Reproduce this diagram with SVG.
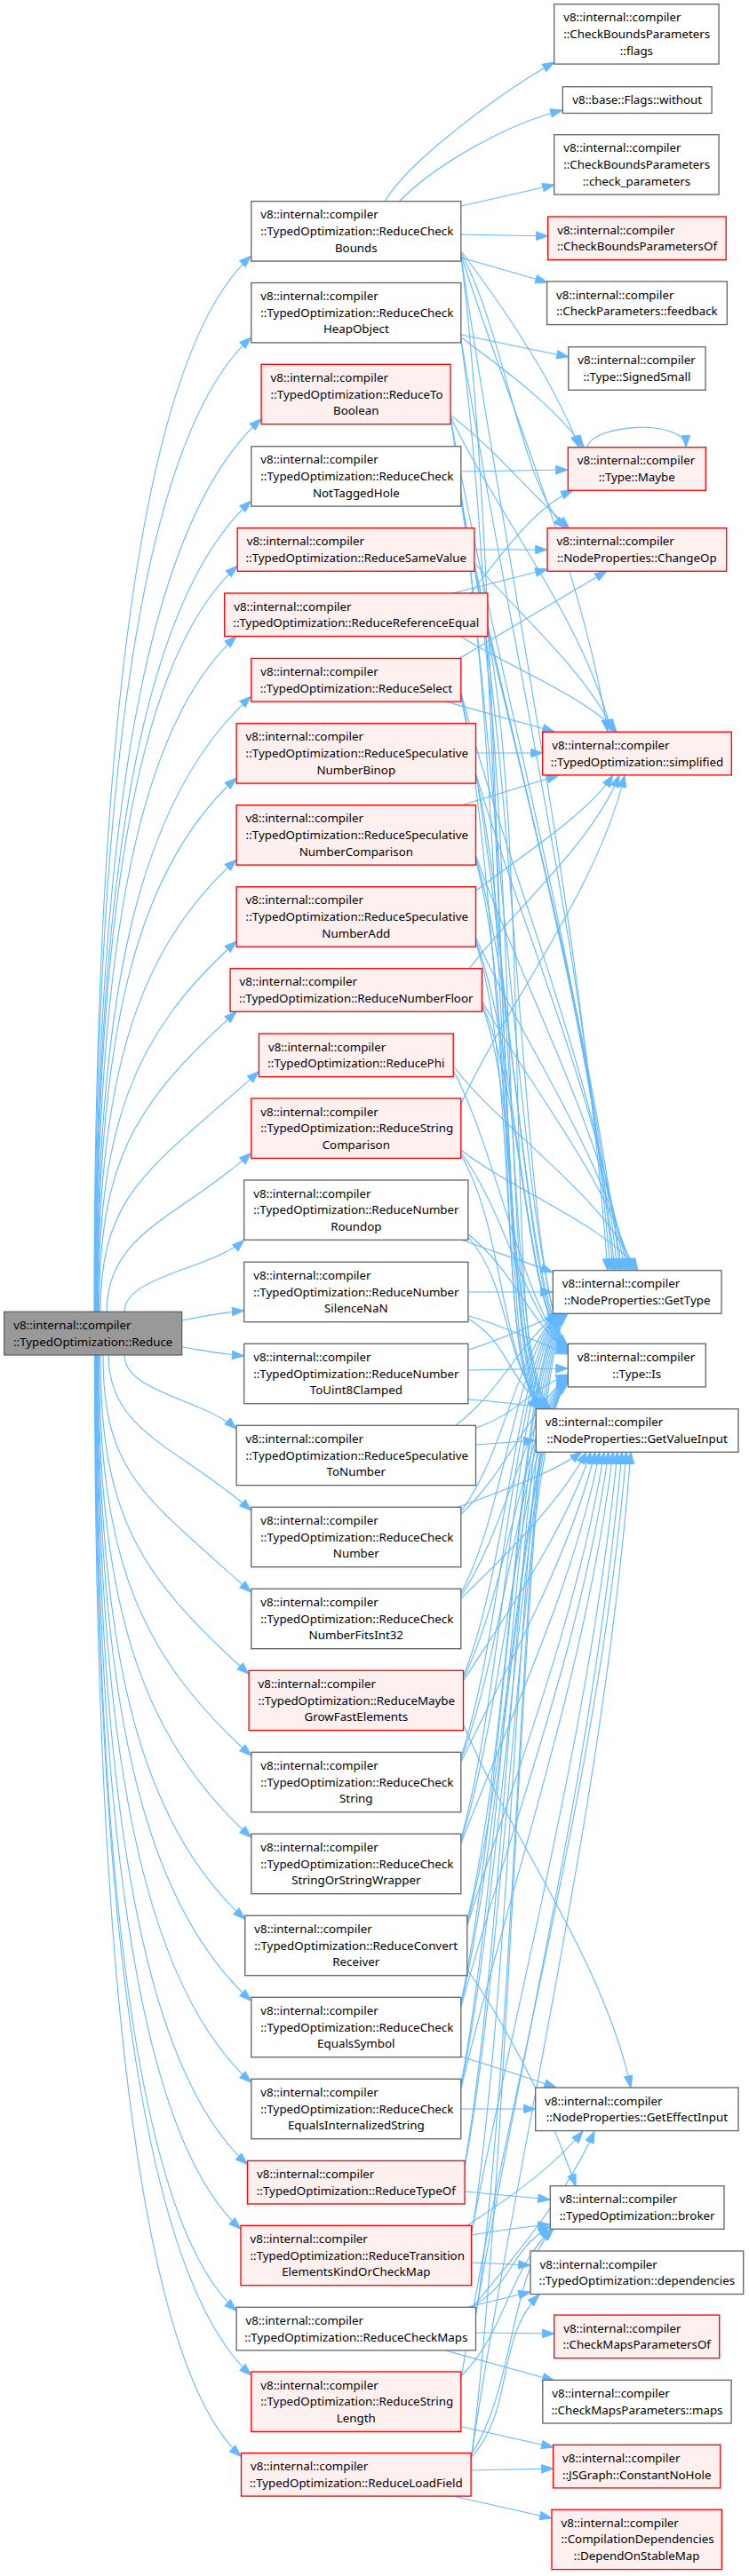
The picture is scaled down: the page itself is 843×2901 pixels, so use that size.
<svg xmlns="http://www.w3.org/2000/svg" width="843" height="2901" viewBox="0 0 843 2901">
<style>
text{font-family:"Noto Sans","DejaVu Sans",sans-serif;font-size:13.33px;fill:#000}
.c{text-anchor:middle}
.w{fill:#fff;stroke:#666;stroke-width:1.33}
.r{fill:#fff0f0;stroke:#f00;stroke-width:1.33}
.g{fill:#999;stroke:#666;stroke-width:1.33}
#edges path{fill:none;stroke:#63b8ff;stroke-width:1.1;marker-end:url(#a)}
</style>
<defs>
<marker id="a" viewBox="-14 -6 15 12" refX="0" refY="0" markerWidth="15" markerHeight="12" markerUnits="userSpaceOnUse" orient="auto"><path d="M0,0 L-13.3,-4.7 L-13.3,4.7 Z" fill="#63b8ff" stroke="#63b8ff" stroke-width="1"/></marker>
</defs>
<rect width="843" height="2901" fill="#fff"/>
<g id="edges">
<path d="M106,1477.3 C106,882.7 150.2,407.4 282.8,288.1"/>
<path d="M106.5,1477.3 C106.5,928.6 150.6,498.9 282.8,379.9"/>
<path d="M107,1477.3 C107,974.5 153.8,598 294.1,471.7"/>
<path d="M107.5,1477.3 C107.5,1020.7 151.3,682.5 282.8,564.1"/>
<path d="M108,1477.3 C108,1057.3 147.8,744.8 267.2,637.3"/>
<path d="M108.5,1477.3 C108.5,1097 147.9,822.9 266,716.6"/>
<path d="M109,1477.3 C109,1130.7 152.4,901.5 282.8,784.1"/>
<path d="M109.5,1477.3 C109.5,1176.7 148.6,981.9 266.1,876.1"/>
<path d="M110,1477.3 C110,1222.7 149.1,1073.4 266.1,968.1"/>
<path d="M110.5,1477.3 C110.5,1268.7 149.4,1165.1 266.1,1060.1"/>
<path d="M111.5,1477.3 C111.5,1308.3 150.1,1243.6 266,1139.3"/>
<path d="M113,1477.3 C113,1342 169.6,1316.2 291.4,1206.6"/>
<path d="M120,1477.3 C120,1387.9 202.3,1370.9 282.8,1298.4"/>
<path d="M140,1477.3 C140,1436.9 238.3,1429.2 274.7,1396.4"/>
<path d="M204.7,1487 C230,1482 250,1478 274.7,1476"/>
<path d="M204.7,1517 C230,1521 250,1525 274.7,1527"/>
<path d="M140,1526 C140,1567.7 228.6,1575.5 266.1,1609.3"/>
<path d="M122,1526 C122,1613.7 203.9,1630.3 282.8,1701.3"/>
<path d="M116,1526 C116,1659.7 162.5,1685 282.8,1793.3"/>
<path d="M113,1526 C113,1705.7 154.8,1772.5 280.1,1885.3"/>
<path d="M111.5,1526 C111.5,1751.7 154.3,1861.6 282.8,1977.3"/>
<path d="M110.5,1526 C110.5,1797.7 153.6,1953 282.8,2069.3"/>
<path d="M110,1526 C110,1843.7 151.4,2049.3 275.8,2161.3"/>
<path d="M109.5,1526 C109.5,1889.7 152.8,2136.3 282.8,2253.3"/>
<path d="M109,1526 C109,1935.7 152.4,2227.9 282.8,2345.3"/>
<path d="M108.5,1526 C108.5,1981.7 151,2322.6 278.5,2437.4"/>
<path d="M108,1526 C108,2018.2 148.7,2400.2 271,2510.3"/>
<path d="M107.5,1526 C107.5,2064.2 147.1,2495.2 266.1,2602.3"/>
<path d="M107,1526 C107,2100.5 150.9,2556.3 282.8,2675"/>
<path d="M106.5,1526 C106.5,2146.3 147.7,2655.1 271.5,2766.5"/>
<path d="M433,227 C460,180 570,100 624,70"/>
<path d="M449,227 C490,185 570,140 633,124"/>
<path d="M519,232 C550,225 590,216 624,208"/>
<path d="M519,264 L617,266"/>
<path d="M519,290 L616,318"/>
<path d="M519,283 C569,349 622,427 652,504"/>
<path d="M519,285 C569,378 586,545 636,595"/>
<path d="M519,287 C569,448 654,636 684,824"/>
<path d="M519,289 C569,632 654,1031 684,1431"/>
<path d="M519,291 C569,680 558,1537 608,1587"/>
<path d="M519,377 L640,402"/>
<path d="M519,380 C569,417 627,460 657,504"/>
<path d="M519,382 C569,697 657,1064 687,1431"/>
<path d="M519,384 C569,745 560,1537 610,1587"/>
<path d="M507.5,468 C557.5,506 591,550 641,595"/>
<path d="M507.5,470 C557.5,576 658,700 688,824"/>
<path d="M507.5,472 C557.5,760 660,1095 690,1431"/>
<path d="M507.5,474 C557.5,787 589,1466 639,1516"/>
<path d="M519,531 L639,529"/>
<path d="M519,562 C569,823 662,1127 692,1431"/>
<path d="M519,565 C569,872 562,1537 612,1587"/>
<path d="M534,619 L616,619"/>
<path d="M534,634 C584,691 661,758 691,824"/>
<path d="M534,636 C584,874 665,1153 695,1431"/>
<path d="M534,638 C584,902 589,1467 639,1517"/>
<path d="M534,640 C584,924 564,1537 614,1587"/>
<path d="M530,668 C560,630 600,572 645,552"/>
<path d="M510,668 L616,641"/>
<path d="M519,717 C569,749 664,787 694,824"/>
<path d="M549,710 C599,926 668,1179 698,1431"/>
<path d="M549,713 C599,975 566,1537 616,1587"/>
<path d="M516,742 L683,643"/>
<path d="M501,790 L624,824"/>
<path d="M519,780 C569,975 670,1203 700,1431"/>
<path d="M519,783 C569,1004 589,1468 639,1518"/>
<path d="M519,786 C569,1026 568,1537 618,1587"/>
<path d="M536,848 L611,848"/>
<path d="M536,873 C586,1040 673,1236 703,1431"/>
<path d="M536,876 C586,1089 570,1537 620,1587"/>
<path d="M519,907 L629,873"/>
<path d="M536,965 C586,1105 676,1268 706,1431"/>
<path d="M536,968 C586,1133 589,1469 639,1519"/>
<path d="M536,971 C586,1156 557,1537 607,1587"/>
<path d="M536,1003 C586,964 660,918 690,873"/>
<path d="M536,1057 C586,1169 679,1300 709,1431"/>
<path d="M536,1060 C586,1198 589,1470 639,1520"/>
<path d="M536,1063 C586,1220 559,1537 609,1587"/>
<path d="M528,1091 C578,1025 667,949 697,873"/>
<path d="M543,1128 C593,1219 682,1325 712,1431"/>
<path d="M543,1131 C593,1248 589,1471 639,1521"/>
<path d="M543,1134 C593,1270 561,1537 611,1587"/>
<path d="M510,1200 C560,1269 685,1350 715,1431"/>
<path d="M510,1205 C560,1300 589,1472 639,1522"/>
<path d="M519,1243 C569,1132 673,1002 703,873"/>
<path d="M519,1295 C569,1336 688,1383 718,1431"/>
<path d="M519,1298 C569,1366 589,1473 639,1523"/>
<path d="M519,1301 C569,1387 563,1537 613,1587"/>
<path d="M519,1396 C550,1408 590,1420 622,1433"/>
<path d="M527,1390 C577,1430 589,1477 639,1524"/>
<path d="M527,1393 C577,1451 565,1537 615,1587"/>
<path d="M527,1455 L622,1455"/>
<path d="M527,1482 C560,1490 600,1510 639,1525"/>
<path d="M527,1485 C577,1516 567,1551 617,1587"/>
<path d="M527,1543 L639,1541"/>
<path d="M527,1520 C560,1510 600,1492 630,1479"/>
<path d="M527,1576 C560,1578 590,1582 619,1587"/>
<path d="M536,1627 L603,1622"/>
<path d="M513,1605 C563,1567 577,1523 627,1479"/>
<path d="M536,1608 C586,1590 589,1569 639,1548"/>
<path d="M519,1702 C569,1635 578,1529 628,1479"/>
<path d="M519,1705 C569,1658 589,1599 639,1549"/>
<path d="M516,1697 C566,1679 625,1657 655,1635"/>
<path d="M519,1794 C569,1700 579,1529 629,1479"/>
<path d="M519,1797 C569,1723 589,1600 639,1550"/>
<path d="M519,1800 C569,1751 630,1693 660,1635"/>
<path d="M522,1886 C572,1764 580,1529 630,1479"/>
<path d="M522,1889 C572,1788 589,1601 639,1551"/>
<path d="M522,1892 C572,1815 635,1725 665,1635"/>
<path d="M522,1943 C572,2065 680,2208 710,2351"/>
<path d="M519,1978 C569,1828 581,1529 631,1479"/>
<path d="M519,1981 C569,1852 589,1602 639,1552"/>
<path d="M519,1984 C569,1879 640,1757 670,1635"/>
<path d="M519,2070 C569,1893 582,1529 632,1479"/>
<path d="M519,2073 C569,1917 589,1603 639,1553"/>
<path d="M519,2076 C569,1944 645,1790 675,1635"/>
<path d="M526,2162 C576,1957 583,1529 633,1479"/>
<path d="M526,2165 C576,1982 589,1604 639,1554"/>
<path d="M526,2168 C576,2008 650,1822 680,1635"/>
<path d="M526,2218 C576,2291 618,2376 648,2462"/>
<path d="M519,2254 C569,2022 584,1529 634,1479"/>
<path d="M519,2257 C569,2046 589,1605 639,1555"/>
<path d="M519,2260 C569,2073 655,1854 685,1635"/>
<path d="M519,2316 C550,2326 595,2340 626,2351"/>
<path d="M519,2375 L603,2375"/>
<path d="M519,2346 C569,2086 585,1529 635,1479"/>
<path d="M519,2349 C569,2111 589,1606 639,1556"/>
<path d="M519,2352 C569,2137 660,1886 690,1635"/>
<path d="M523,2468 L619,2477"/>
<path d="M523,2438 C573,2150 586,1529 636,1479"/>
<path d="M523,2441 C573,2176 589,1607 639,1557"/>
<path d="M526,2506 C576,2474 626,2437 656,2400"/>
<path d="M531,2517 C560,2512 590,2508 619,2505"/>
<path d="M531,2548 L597,2551"/>
<path d="M531,2513 C581,2250 665,1943 695,1635"/>
<path d="M531,2515 C581,2204 587,1529 637,1479"/>
<path d="M536,2627 L624,2628"/>
<path d="M501,2647 L624,2681"/>
<path d="M527,2598 L597,2581"/>
<path d="M530,2598 C580,2571 569,2539 619,2507"/>
<path d="M532,2598 C582,2539 639,2469 669,2400"/>
<path d="M536,2603 C586,2313 670,1974 700,1635"/>
<path d="M536,2605 C586,2267 588,1529 638,1479"/>
<path d="M520,2733 L623,2756"/>
<path d="M519,2676 C569,2626 571,2560 621,2510"/>
<path d="M519,2679 C569,2366 675,2001 705,1635"/>
<path d="M530,2782 L623,2780"/>
<path d="M510,2811 L621,2836"/>
<path d="M530,2765 C580,2689 573,2560 623,2510"/>
<path d="M530,2768 C580,2713 557,2634 607,2584"/>
<path d="M530,2770 C580,2430 680,2032 710,1635"/>
<path d="M530,2772 C580,2384 589,1529 639,1479"/>
<path d="M661,503 C670,476 772,472 772,503.7"/>
</g>
<g id="reduce"><rect class="g" x="4.7" y="1477.3" width="200" height="48.7"/><text x="15.2" y="1496.8">v8::internal::compiler</text><text class="c" x="104.7" y="1515.5">::TypedOptimization::Reduce</text></g>
<g id="checkbounds"><rect class="w" x="282.8" y="226.7" width="236" height="67.4"/><text x="293.3" y="246.2">v8::internal::compiler</text><text x="293.3" y="264.9">::TypedOptimization::ReduceCheck</text><text class="c" x="400.8" y="283.6">Bounds</text></g>
<g id="checkheapobject"><rect class="w" x="282.8" y="318.5" width="236" height="67.4"/><text x="293.3" y="338">v8::internal::compiler</text><text x="293.3" y="356.7">::TypedOptimization::ReduceCheck</text><text class="c" x="400.8" y="375.4">HeapObject</text></g>
<g id="toboolean"><rect class="r" x="294.1" y="410.3" width="213" height="67.4"/><text x="304.6" y="429.8">v8::internal::compiler</text><text x="304.6" y="448.5">::TypedOptimization::ReduceTo</text><text class="c" x="400.8" y="467.2">Boolean</text></g>
<g id="checknottaggedhole"><rect class="w" x="282.8" y="502.7" width="236" height="67.4"/><text x="293.3" y="522.2">v8::internal::compiler</text><text x="293.3" y="540.9">::TypedOptimization::ReduceCheck</text><text class="c" x="400.8" y="559.6">NotTaggedHole</text></g>
<g id="samevalue"><rect class="r" x="267.2" y="594.7" width="266.7" height="48.6"/><text x="277.7" y="614.2">v8::internal::compiler</text><text class="c" x="400.8" y="632.9">::TypedOptimization::ReduceSameValue</text></g>
<g id="referenceequal"><rect class="r" x="252.7" y="668" width="296.2" height="48.6"/><text x="263.2" y="687.5">v8::internal::compiler</text><text class="c" x="400.8" y="706.2">::TypedOptimization::ReduceReferenceEqual</text></g>
<g id="select"><rect class="r" x="282.8" y="741.5" width="236" height="48.6"/><text x="293.3" y="761">v8::internal::compiler</text><text class="c" x="400.8" y="779.7">::TypedOptimization::ReduceSelect</text></g>
<g id="binop"><rect class="r" x="266.1" y="814.7" width="269.4" height="67.4"/><text x="276.6" y="834.2">v8::internal::compiler</text><text x="276.6" y="852.9">::TypedOptimization::ReduceSpeculative</text><text class="c" x="400.8" y="871.6">NumberBinop</text></g>
<g id="comparison"><rect class="r" x="266.1" y="906.7" width="269.4" height="67.4"/><text x="276.6" y="926.2">v8::internal::compiler</text><text x="276.6" y="944.9">::TypedOptimization::ReduceSpeculative</text><text class="c" x="400.8" y="963.6">NumberComparison</text></g>
<g id="numberadd"><rect class="r" x="266.1" y="998.7" width="269.4" height="67.4"/><text x="276.6" y="1018.2">v8::internal::compiler</text><text x="276.6" y="1036.9">::TypedOptimization::ReduceSpeculative</text><text class="c" x="400.8" y="1055.6">NumberAdd</text></g>
<g id="numberfloor"><rect class="r" x="259.1" y="1090.7" width="283.4" height="48.6"/><text x="269.6" y="1110.2">v8::internal::compiler</text><text class="c" x="400.8" y="1128.9">::TypedOptimization::ReduceNumberFloor</text></g>
<g id="phi"><rect class="r" x="291.4" y="1164" width="218.8" height="48.6"/><text x="301.9" y="1183.5">v8::internal::compiler</text><text class="c" x="400.8" y="1202.2">::TypedOptimization::ReducePhi</text></g>
<g id="stringcomparison"><rect class="r" x="282.8" y="1237" width="236" height="67.4"/><text x="293.3" y="1256.5">v8::internal::compiler</text><text x="293.3" y="1275.2">::TypedOptimization::ReduceString</text><text class="c" x="400.8" y="1293.9">Comparison</text></g>
<g id="roundop"><rect class="w" x="274.7" y="1329" width="252.2" height="67.4"/><text x="285.2" y="1348.5">v8::internal::compiler</text><text x="285.2" y="1367.2">::TypedOptimization::ReduceNumber</text><text class="c" x="400.8" y="1385.9">Roundop</text></g>
<g id="silencenan"><rect class="w" x="274.7" y="1421.3" width="252.2" height="67.4"/><text x="285.2" y="1440.8">v8::internal::compiler</text><text x="285.2" y="1459.5">::TypedOptimization::ReduceNumber</text><text class="c" x="400.8" y="1478.2">SilenceNaN</text></g>
<g id="touint8clamped"><rect class="w" x="274.7" y="1513.3" width="252.2" height="67.4"/><text x="285.2" y="1532.8">v8::internal::compiler</text><text x="285.2" y="1551.5">::TypedOptimization::ReduceNumber</text><text class="c" x="400.8" y="1570.2">ToUint8Clamped</text></g>
<g id="speculativetonumber"><rect class="w" x="266.1" y="1605.3" width="269.4" height="67.4"/><text x="276.6" y="1624.8">v8::internal::compiler</text><text x="276.6" y="1643.5">::TypedOptimization::ReduceSpeculative</text><text class="c" x="400.8" y="1662.2">ToNumber</text></g>
<g id="checknumber"><rect class="w" x="282.8" y="1697.3" width="236" height="67.4"/><text x="293.3" y="1716.8">v8::internal::compiler</text><text x="293.3" y="1735.5">::TypedOptimization::ReduceCheck</text><text class="c" x="400.8" y="1754.2">Number</text></g>
<g id="checknumberfitsint32"><rect class="w" x="282.8" y="1789.3" width="236" height="67.4"/><text x="293.3" y="1808.8">v8::internal::compiler</text><text x="293.3" y="1827.5">::TypedOptimization::ReduceCheck</text><text class="c" x="400.8" y="1846.2">NumberFitsInt32</text></g>
<g id="maybegrowfastelements"><rect class="r" x="280.1" y="1881.3" width="241.4" height="67.4"/><text x="290.6" y="1900.8">v8::internal::compiler</text><text x="290.6" y="1919.5">::TypedOptimization::ReduceMaybe</text><text class="c" x="400.8" y="1938.2">GrowFastElements</text></g>
<g id="checkstring"><rect class="w" x="282.8" y="1973.3" width="236" height="67.4"/><text x="293.3" y="1992.8">v8::internal::compiler</text><text x="293.3" y="2011.5">::TypedOptimization::ReduceCheck</text><text class="c" x="400.8" y="2030.2">String</text></g>
<g id="checkstringorstringwrapper"><rect class="w" x="282.8" y="2065.3" width="236" height="67.4"/><text x="293.3" y="2084.8">v8::internal::compiler</text><text x="293.3" y="2103.5">::TypedOptimization::ReduceCheck</text><text class="c" x="400.8" y="2122.2">StringOrStringWrapper</text></g>
<g id="convertreceiver"><rect class="w" x="275.8" y="2157.3" width="250" height="67.4"/><text x="286.3" y="2176.8">v8::internal::compiler</text><text x="286.3" y="2195.5">::TypedOptimization::ReduceConvert</text><text class="c" x="400.8" y="2214.2">Receiver</text></g>
<g id="checkequalssymbol"><rect class="w" x="282.8" y="2249.3" width="236" height="67.4"/><text x="293.3" y="2268.8">v8::internal::compiler</text><text x="293.3" y="2287.5">::TypedOptimization::ReduceCheck</text><text class="c" x="400.8" y="2306.2">EqualsSymbol</text></g>
<g id="checkequalsinternalizedstring"><rect class="w" x="282.8" y="2341.3" width="236" height="67.4"/><text x="293.3" y="2360.8">v8::internal::compiler</text><text x="293.3" y="2379.5">::TypedOptimization::ReduceCheck</text><text class="c" x="400.8" y="2398.2">EqualsInternalizedString</text></g>
<g id="typeof"><rect class="r" x="278.5" y="2433.4" width="244.6" height="48.6"/><text x="289" y="2452.9">v8::internal::compiler</text><text class="c" x="400.8" y="2471.6">::TypedOptimization::ReduceTypeOf</text></g>
<g id="transition"><rect class="r" x="271" y="2506.3" width="259.6" height="67.4"/><text x="281.5" y="2525.8">v8::internal::compiler</text><text x="281.5" y="2544.5">::TypedOptimization::ReduceTransition</text><text class="c" x="400.8" y="2563.2">ElementsKindOrCheckMap</text></g>
<g id="checkmaps"><rect class="w" x="266.1" y="2598.3" width="269.4" height="48.6"/><text x="276.6" y="2617.8">v8::internal::compiler</text><text class="c" x="400.8" y="2636.5">::TypedOptimization::ReduceCheckMaps</text></g>
<g id="stringlength"><rect class="r" x="282.8" y="2671" width="236" height="67.4"/><text x="293.3" y="2690.5">v8::internal::compiler</text><text x="293.3" y="2709.2">::TypedOptimization::ReduceString</text><text class="c" x="400.8" y="2727.9">Length</text></g>
<g id="loadfield"><rect class="r" x="271.5" y="2762.5" width="258.6" height="48.6"/><text x="282" y="2782">v8::internal::compiler</text><text class="c" x="400.8" y="2800.7">::TypedOptimization::ReduceLoadField</text></g>
<g id="flags"><rect class="w" x="623.7" y="4.7" width="185.4" height="67.4"/><text x="634.2" y="24.2">v8::internal::compiler</text><text x="634.2" y="42.9">::CheckBoundsParameters</text><text class="c" x="716.4" y="61.6">::flags</text></g>
<g id="without"><rect class="w" x="633.3" y="97.7" width="167.8" height="29.8"/><text class="c" x="717.2" y="117.2">v8::base::Flags::without</text></g>
<g id="check_parameters"><rect class="w" x="623.7" y="151.7" width="185.4" height="67.4"/><text x="634.2" y="171.2">v8::internal::compiler</text><text x="634.2" y="189.9">::CheckBoundsParameters</text><text class="c" x="716.4" y="208.6">::check_parameters</text></g>
<g id="checkboundsparametersof"><rect class="r" x="616.7" y="244" width="200.5" height="48.6"/><text x="627.2" y="263.5">v8::internal::compiler</text><text class="c" x="716.95" y="282.2">::CheckBoundsParametersOf</text></g>
<g id="feedback"><rect class="w" x="615.6" y="317" width="202.7" height="48.6"/><text x="626.1" y="336.5">v8::internal::compiler</text><text class="c" x="716.95" y="355.2">::CheckParameters::feedback</text></g>
<g id="signedsmall"><rect class="w" x="639.8" y="390.7" width="154.3" height="48.6"/><text x="650.3" y="410.2">v8::internal::compiler</text><text class="c" x="716.95" y="428.9">::Type::SignedSmall</text></g>
<g id="maybe"><rect class="r" x="639.3" y="503.7" width="155" height="48.6"/><text x="649.8" y="523.2">v8::internal::compiler</text><text class="c" x="716.8" y="541.9">::Type::Maybe</text></g>
<g id="changeop"><rect class="r" x="616" y="594.7" width="201.7" height="48.6"/><text x="626.5" y="614.2">v8::internal::compiler</text><text class="c" x="716.85" y="632.9">::NodeProperties::ChangeOp</text></g>
<g id="simplified"><rect class="r" x="610.7" y="824.3" width="212.6" height="48.6"/><text x="621.2" y="843.8">v8::internal::compiler</text><text class="c" x="717" y="862.5">::TypedOptimization::simplified</text></g>
<g id="gettype"><rect class="w" x="622.3" y="1430.7" width="189.7" height="48.6"/><text x="632.8" y="1450.2">v8::internal::compiler</text><text class="c" x="717.15" y="1468.9">::NodeProperties::GetType</text></g>
<g id="is"><rect class="w" x="639.3" y="1513.3" width="155" height="48.6"/><text x="649.8" y="1532.8">v8::internal::compiler</text><text class="c" x="716.8" y="1551.5">::Type::Is</text></g>
<g id="getvalueinput"><rect class="w" x="603.3" y="1586.7" width="227.7" height="48.6"/><text x="613.8" y="1606.2">v8::internal::compiler</text><text class="c" x="717.15" y="1624.9">::NodeProperties::GetValueInput</text></g>
<g id="geteffectinput"><rect class="w" x="602.7" y="2351" width="228.3" height="48.6"/><text x="613.2" y="2370.5">v8::internal::compiler</text><text class="c" x="716.85" y="2389.2">::NodeProperties::GetEffectInput</text></g>
<g id="broker"><rect class="w" x="619.3" y="2461.7" width="195.7" height="48.6"/><text x="629.8" y="2481.2">v8::internal::compiler</text><text class="c" x="717.15" y="2499.9">::TypedOptimization::broker</text></g>
<g id="dependencies"><rect class="w" x="597" y="2535" width="239.7" height="48.6"/><text x="607.5" y="2554.5">v8::internal::compiler</text><text class="c" x="716.85" y="2573.2">::TypedOptimization::dependencies</text></g>
<g id="checkmapsparametersof"><rect class="r" x="623.7" y="2607.1" width="186" height="48.6"/><text x="634.2" y="2626.6">v8::internal::compiler</text><text class="c" x="716.7" y="2645.3">::CheckMapsParametersOf</text></g>
<g id="maps"><rect class="w" x="610.8" y="2680.4" width="212.3" height="48.6"/><text x="621.3" y="2699.9">v8::internal::compiler</text><text class="c" x="716.95" y="2718.6">::CheckMapsParameters::maps</text></g>
<g id="constantnohole"><rect class="r" x="622.6" y="2753.3" width="188.2" height="48.6"/><text x="633.1" y="2772.8">v8::internal::compiler</text><text class="c" x="716.7" y="2791.5">::JSGraph::ConstantNoHole</text></g>
<g id="dependonstablemap"><rect class="r" x="621" y="2826.2" width="191.4" height="67.4"/><text x="631.5" y="2845.7">v8::internal::compiler</text><text x="631.5" y="2864.4">::CompilationDependencies</text><text class="c" x="716.7" y="2883.1">::DependOnStableMap</text></g>
</svg>
